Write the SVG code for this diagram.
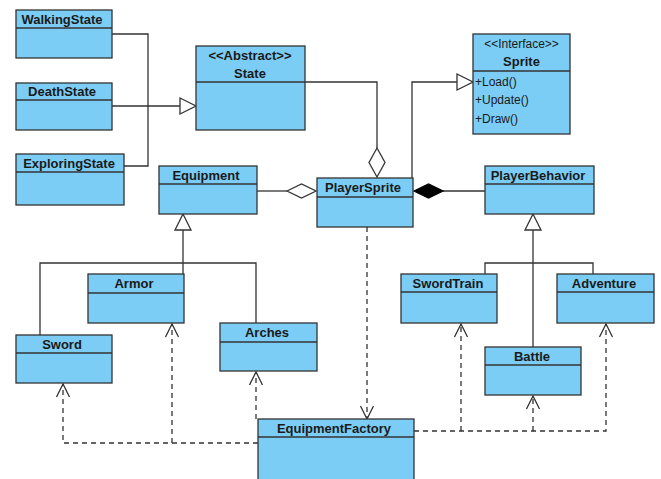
<svg xmlns="http://www.w3.org/2000/svg" width="661" height="479" viewBox="0 0 661 479">
<style>
.box{fill:#7BCDF5;stroke:#333;stroke-width:1.3}
.div{stroke:#333;stroke-width:1.3}
.t{font-family:"Liberation Sans",Arial,sans-serif;font-size:13px;font-weight:bold;fill:#1a1a1a;text-anchor:middle}
.n{font-family:"Liberation Sans",Arial,sans-serif;font-size:12px;fill:#1a1a1a}
.c{fill:none;stroke:#333;stroke-width:1.3}
.d{fill:none;stroke:#333;stroke-width:1.3;stroke-dasharray:5,4}
.tri{fill:#fff;stroke:#333;stroke-width:1.3}
.dia{fill:#fff;stroke:#333;stroke-width:1.3}
.fdia{fill:#000;stroke:#000;stroke-width:1.3}
.open{fill:none;stroke:#333;stroke-width:1.3}
</style>
<rect width="661" height="479" fill="#fff"/>
<g id="connectors">
<polyline class="c" points="112,34 148,34 148,166 124,166"/>
<line class="c" x1="112" y1="106" x2="180" y2="106"/>
<polygon class="tri" points="180,98 196,106 180,114"/>
<polyline class="c" points="305,82 377,82 377,148"/>
<polygon class="dia" points="377,148 385,162.5 377,177 369,162.5"/>
<polyline class="c" points="412,178 412,82 457,82"/>
<polygon class="tri" points="457,74 473,82 457,90"/>
<line class="c" x1="257" y1="191" x2="287" y2="191"/>
<polygon class="dia" points="287,191 301.5,184 316,191 301.5,198"/>
<line class="c" x1="443" y1="191" x2="485" y2="191"/>
<polygon class="fdia" points="414,191 428.5,184 443,191 428.5,198"/>
<polygon class="tri" points="183,214 191,230 175,230"/>
<line class="c" x1="183" y1="230" x2="183" y2="274"/>
<polyline class="c" points="40,335 40,263 256,263 256,323"/>
<polygon class="tri" points="533,214 541,230 525,230"/>
<line class="c" x1="533" y1="230" x2="533" y2="347"/>
<polyline class="c" points="485,274 485,263 593,263 593,274"/>
<line class="d" x1="367" y1="227" x2="367" y2="419"/>
<polyline class="open" points="360.5,406 367,419 373.5,406"/>
<polyline class="d" points="258,443 63,443 63,384"/>
<polyline class="open" points="56.5,397 63,384 69.5,397"/>
<line class="d" x1="172" y1="443" x2="172" y2="324"/>
<polyline class="open" points="165.5,337 172,324 178.5,337"/>
<line class="d" x1="256" y1="419" x2="256" y2="372"/>
<polyline class="open" points="249.5,385 256,372 262.5,385"/>
<polyline class="d" points="414,431 606,431 606,324"/>
<polyline class="open" points="599.5,337 606,324 612.5,337"/>
<line class="d" x1="461" y1="431" x2="461" y2="324"/>
<polyline class="open" points="454.5,337 461,324 467.5,337"/>
<line class="d" x1="533" y1="431" x2="533" y2="396"/>
<polyline class="open" points="526.5,409 533,396 539.5,409"/>
</g>
<g id="WalkingState">
<rect class="box" x="16" y="10" width="96" height="48"/>
<line class="div" x1="16" y1="28" x2="112" y2="28"/>
<text class="t" x="62" y="24">WalkingState</text>
</g>
<g id="DeathState">
<rect class="box" x="16" y="83" width="96" height="47"/>
<line class="div" x1="16" y1="100" x2="112" y2="100"/>
<text class="t" x="62" y="96">DeathState</text>
</g>
<g id="ExploringState">
<rect class="box" x="16" y="154" width="108" height="51"/>
<line class="div" x1="16" y1="172" x2="124" y2="172"/>
<text class="t" x="69" y="168">ExploringState</text>
</g>
<g id="State">
<rect class="box" x="196" y="46" width="109" height="84"/>
<line class="div" x1="196" y1="82" x2="305" y2="82"/>
<text class="t" x="250" y="60">&lt;&lt;Abstract&gt;&gt;</text>
<text class="t" x="250" y="78">State</text>
</g>
<g id="Sprite">
<rect class="box" x="473" y="34" width="97" height="100"/>
<line class="div" x1="473" y1="71" x2="570" y2="71"/>
<text class="n" x="521.5" y="48" text-anchor="middle">&lt;&lt;Interface&gt;&gt;</text>
<text class="t" x="521.5" y="66">Sprite</text>
<text class="n" x="475" y="86">+Load()</text>
<text class="n" x="475" y="104">+Update()</text>
<text class="n" x="475" y="123">+Draw()</text>
</g>
<g id="Equipment">
<rect class="box" x="159" y="166" width="98" height="48"/>
<line class="div" x1="159" y1="184" x2="257" y2="184"/>
<text class="t" x="206" y="180">Equipment</text>
</g>
<g id="PlayerSprite">
<rect class="box" x="317" y="178" width="96" height="49"/>
<line class="div" x1="317" y1="197" x2="413" y2="197"/>
<text class="t" x="363" y="192">PlayerSprite</text>
</g>
<g id="PlayerBehavior">
<rect class="box" x="485" y="166" width="109" height="48"/>
<line class="div" x1="485" y1="184" x2="594" y2="184"/>
<text class="t" x="538" y="180">PlayerBehavior</text>
</g>
<g id="Armor">
<rect class="box" x="88" y="274" width="96" height="49"/>
<line class="div" x1="88" y1="293" x2="184" y2="293"/>
<text class="t" x="134" y="288">Armor</text>
</g>
<g id="Sword">
<rect class="box" x="16" y="335" width="96" height="48"/>
<line class="div" x1="16" y1="353" x2="112" y2="353"/>
<text class="t" x="62" y="349">Sword</text>
</g>
<g id="Arches">
<rect class="box" x="220" y="323" width="97" height="48"/>
<line class="div" x1="220" y1="342" x2="317" y2="342"/>
<text class="t" x="267" y="337">Arches</text>
</g>
<g id="SwordTrain">
<rect class="box" x="401" y="274" width="96" height="49"/>
<line class="div" x1="401" y1="292" x2="497" y2="292"/>
<text class="t" x="448" y="288">SwordTrain</text>
</g>
<g id="Adventure">
<rect class="box" x="557" y="274" width="97" height="49"/>
<line class="div" x1="557" y1="292" x2="654" y2="292"/>
<text class="t" x="604" y="288">Adventure</text>
</g>
<g id="Battle">
<rect class="box" x="485" y="347" width="96" height="48"/>
<line class="div" x1="485" y1="365" x2="581" y2="365"/>
<text class="t" x="532" y="361">Battle</text>
</g>
<g id="EquipmentFactory">
<rect class="box" x="258" y="419" width="156" height="64"/>
<line class="div" x1="258" y1="437" x2="414" y2="437"/>
<text class="t" x="334" y="433">EquipmentFactory</text>
</g>
</svg>
